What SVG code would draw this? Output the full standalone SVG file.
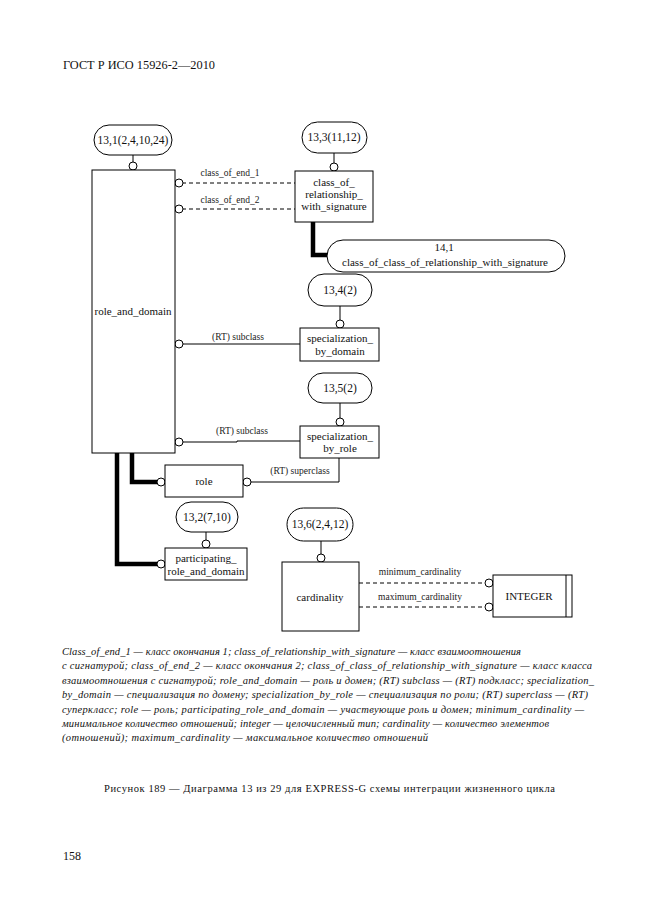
<svg xmlns="http://www.w3.org/2000/svg" width="661" height="913" viewBox="0 0 661 913">
<style>
.bg{fill:#fff}
.box{fill:#fff;stroke:#000;stroke-width:1}
.pill{fill:#fff;stroke:#000;stroke-width:1}
.ln{fill:none;stroke:#000;stroke-width:1}
.dash{fill:none;stroke:#000;stroke-width:1;stroke-dasharray:4,3}
.thick{fill:none;stroke:#000;stroke-width:4.5}
.ring{fill:#fff;stroke:#000;stroke-width:1}
text{font-family:'Liberation Serif','Times New Roman',Tinos,serif;fill:#111}
.t{font-size:11px;text-anchor:middle}
.p{font-size:11.5px;text-anchor:middle}
.lb{font-size:9.5px;text-anchor:middle;fill:#222}
.cap{font-size:10.5px;font-style:italic}
.hd{font-size:12px}
.fc{font-size:10.5px}
</style>
<rect class="bg" x="0" y="0" width="661" height="913"/>
<text class="hd" x="63" y="69" textLength="152" lengthAdjust="spacingAndGlyphs">ГОСТ Р ИСО 15926-2—2010</text>

<g id="connectors">
<line class="ln" x1="133" y1="155" x2="133" y2="162"/>
<line class="ln" x1="334" y1="153" x2="334" y2="163"/>
<line class="ln" x1="340" y1="306" x2="340" y2="320"/>
<line class="ln" x1="340" y1="403" x2="340" y2="419"/>
<line class="ln" x1="206" y1="532" x2="206" y2="540"/>
<line class="ln" x1="321" y1="541" x2="321" y2="554"/>
<line class="dash" x1="182" y1="183" x2="295" y2="183"/>
<line class="dash" x1="182" y1="209" x2="295" y2="209"/>
<polyline class="thick" points="313,222 313,255 328,255"/>
<line class="ln" x1="182" y1="344" x2="300" y2="344"/>
<polyline class="ln" points="182,442 237,442 237,441 300,441"/>
<polyline class="ln" points="250,482 339,482 339,458"/>
<polyline class="thick" points="132,453 132,482 157,482"/>
<polyline class="thick" points="117,453 117,564 157,564"/>
<line class="dash" x1="359" y1="583" x2="485" y2="583"/>
<line class="dash" x1="359" y1="607" x2="485" y2="607"/>
<circle class="ring" cx="133" cy="166" r="4"/>
<circle class="ring" cx="334" cy="167" r="4"/>
<circle class="ring" cx="340" cy="324" r="4"/>
<circle class="ring" cx="340" cy="422" r="4"/>
<circle class="ring" cx="206" cy="544" r="4"/>
<circle class="ring" cx="321" cy="558" r="4"/>
<circle class="ring" cx="179" cy="183" r="4"/>
<circle class="ring" cx="179" cy="209" r="4"/>
<circle class="ring" cx="179" cy="344" r="4"/>
<circle class="ring" cx="179" cy="442" r="4"/>
<circle class="ring" cx="161" cy="482" r="4"/>
<circle class="ring" cx="247" cy="482" r="4"/>
<circle class="ring" cx="161" cy="564" r="4"/>
<circle class="ring" cx="489" cy="583" r="4"/>
<circle class="ring" cx="489" cy="607" r="4"/>
<text class="lb" x="230" y="176">class_of_end_1</text>
<text class="lb" x="230" y="203">class_of_end_2</text>
<text class="lb" x="238" y="340">(RT) subclass</text>
<text class="lb" x="242" y="434">(RT) subclass</text>
<text class="lb" x="300" y="474">(RT) superclass</text>
<text class="lb" x="420" y="575">minimum_cardinality</text>
<text class="lb" x="420" y="600">maximum_cardinality</text>
</g>

<g id="p13_1"><rect class="pill" x="94" y="125" width="78" height="30" rx="15"/><text class="p" x="133" y="144">13,1(2,4,10,24)</text></g>
<g id="role_and_domain"><rect class="box" x="92" y="170" width="83" height="283"/><text class="t" x="133" y="315">role_and_domain</text></g>
<g id="p13_3"><rect class="pill" x="302" y="122" width="65" height="31" rx="15.5"/><text class="p" x="334" y="141">13,3(11,12)</text></g>
<g id="class_of_relationship_with_signature"><rect class="box" x="295" y="171" width="78" height="51"/><text class="t" x="334" y="186">class_of_</text><text class="t" x="334" y="198">relationship_</text><text class="t" x="334" y="210">with_signature</text></g>
<g id="p14_1"><rect class="pill" x="327" y="240" width="238" height="32" rx="16"/><text class="t" x="444" y="251">14,1</text><text class="t" x="445" y="266">class_of_class_of_relationship_with_signature</text></g>
<g id="p13_4"><rect class="pill" x="308" y="274" width="64" height="32" rx="16"/><text class="p" x="340" y="294">13,4(2)</text></g>
<g id="specialization_by_domain"><rect class="box" x="300" y="328" width="79" height="33"/><text class="t" x="340" y="342">specialization_</text><text class="t" x="340" y="355">by_domain</text></g>
<g id="p13_5"><rect class="pill" x="308" y="373" width="64" height="30" rx="15"/><text class="p" x="340" y="392">13,5(2)</text></g>
<g id="specialization_by_role"><rect class="box" x="300" y="426" width="79" height="32"/><text class="t" x="340" y="440">specialization_</text><text class="t" x="340" y="452">by_role</text></g>
<g id="role"><rect class="box" x="165" y="465" width="78" height="32"/><text class="t" x="204" y="485">role</text></g>
<g id="p13_2"><rect class="pill" x="176" y="502" width="62" height="30" rx="15"/><text class="p" x="207" y="521">13,2(7,10)</text></g>
<g id="participating_role_and_domain"><rect class="box" x="165" y="548" width="82" height="32"/><text class="t" x="206" y="562">participating_</text><text class="t" x="206" y="575">role_and_domain</text></g>
<g id="p13_6"><rect class="pill" x="287" y="508" width="66" height="33" rx="16.5"/><text class="p" x="320" y="528">13,6(2,4,12)</text></g>
<g id="cardinality"><rect class="box" x="282" y="562" width="77" height="69"/><text class="t" x="320" y="601">cardinality</text></g>
<g id="INTEGER"><rect class="box" x="493" y="575" width="79" height="42"/><line class="ln" x1="566" y1="575" x2="566" y2="617"/><text class="t" x="529" y="600">INTEGER</text></g>

<g id="caption">
<text class="cap" x="62" y="655" textLength="459" lengthAdjust="spacing">Class_of_end_1 — класс окончания 1; class_of_relationship_with_signature — класс взаимоотношения</text>
<text class="cap" x="62" y="669" textLength="530" lengthAdjust="spacing">с сигнатурой; class_of_end_2 — класс окончания 2; class_of_class_of_relationship_with_signature — класс класса</text>
<text class="cap" x="62" y="684" textLength="532" lengthAdjust="spacing">взаимоотношения с сигнатурой; role_and_domain — роль и домен; (RT) subclass — (RT) подкласс; specialization_</text>
<text class="cap" x="62" y="698" textLength="526" lengthAdjust="spacing">by_domain — специализация по домену; specialization_by_role — специализация по роли; (RT) superclass — (RT)</text>
<text class="cap" x="62" y="713" textLength="522" lengthAdjust="spacing">суперкласс; role — роль; participating_role_and_domain — участвующие роль и домен; minimum_cardinality —</text>
<text class="cap" x="62" y="727" textLength="487" lengthAdjust="spacing">минимальное количество отношений; integer — целочисленный тип; cardinality — количество элементов</text>
<text class="cap" x="62" y="741" textLength="366" lengthAdjust="spacing">(отношений); maximum_cardinality — максимальное количество отношений</text>
</g>
<text class="fc" x="104" y="792" textLength="451" lengthAdjust="spacing">Рисунок 189 — Диаграмма 13 из 29 для EXPRESS-G схемы интеграции жизненного цикла</text>
<text class="hd" x="63" y="860">158</text>
</svg>
